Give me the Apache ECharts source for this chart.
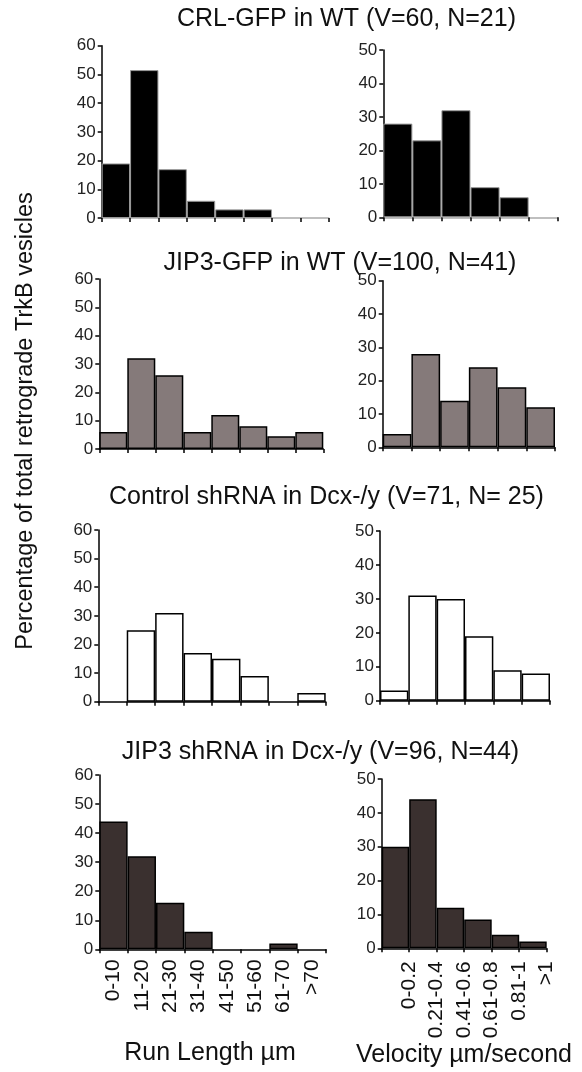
<!DOCTYPE html>
<html>
<head>
<meta charset="utf-8">
<script src="https://cdn.jsdelivr.net/npm/echarts@6/dist/echarts.min.js"></script>
<style>
  html, body { margin: 0; padding: 0; background: #fff; }
  #main { width: 582px; height: 1072px; }
</style>
</head>
<body>
<div id="main"></div>
<script>
// 类别
var runLabels = ['0-10', '11-20', '21-30', '31-40', '41-50', '51-60', '61-70', '>70']
var velLabels = ['0-0.2', '0.21-0.4', '0.41-0.6', '0.61-0.8', '0.81-1', '>1']

// 各组百分比
var crlRun = [19, 51.5, 17, 6, 3, 3, 0, 0]
var crlVel = [28, 23, 32, 9, 6, 0]
var jipRun = [6, 32, 26, 6, 12, 8, 4.5, 6]
var jipVel = [4, 28, 14, 24, 18, 12]
var ctlRun = [0, 25, 31, 17, 15, 9, 0, 3]
var ctlVel = [3, 31, 30, 19, 9, 8]
var shRun = [44, 32, 16, 6, 0, 0, 2, 0]
var shVel = [30, 44, 12, 8.5, 4, 2]

var yMaxRun = 60
var yMaxVel = 50

var titles = [
  'CRL-GFP in WT (V=60, N=21)',
  'JIP3-GFP in WT (V=100, N=41)',
  'Control shRNA in Dcx-/y (V=71, N= 25)',
  'JIP3 shRNA in Dcx-/y (V=96, N=44)'
]

var FONT = '"Liberation Sans", Arial, sans-serif'

// 面板布局 [left, top, width, height]
var panels = [
  { box: [101.7, 45.7, 227, 172.3], cats: runLabels, data: crlRun, max: yMaxRun, color: '#000', border: '#999', xLine: '#aaa', labels: false },
  { box: [383.3, 50, 174.4, 167.3], cats: velLabels, data: crlVel, max: yMaxVel, color: '#000', border: '#999', xLine: '#aaa', labels: false },
  { box: [99.3, 279, 224, 170], cats: runLabels, data: jipRun, max: yMaxRun, color: '#857a7a', border: '#000', xLine: '#000', labels: false },
  { box: [382.7, 280.7, 172.3, 166.6], cats: velLabels, data: jipVel, max: yMaxVel, color: '#857a7a', border: '#000', xLine: '#000', labels: false },
  { box: [98.3, 530, 227.4, 171.7], cats: runLabels, data: ctlRun, max: yMaxRun, color: '#fff', border: '#000', xLine: '#000', labels: false },
  { box: [380, 531, 170, 169.7], cats: velLabels, data: ctlVel, max: yMaxVel, color: '#fff', border: '#000', xLine: '#000', labels: false },
  { box: [99.3, 775, 226.7, 174.3], cats: runLabels, data: shRun, max: yMaxRun, color: '#3a302f', border: '#000', xLine: '#000', labels: 'run' },
  { box: [381.7, 779, 165, 169.3], cats: velLabels, data: shVel, max: yMaxVel, color: '#3a302f', border: '#000', xLine: '#000', labels: 'vel' }
]

var labelStyle = { show: true, interval: 0, rotate: 90, fontFamily: FONT, fontSize: 21, color: '#111' }

var grid = [], xAxis = [], yAxis = [], series = []
panels.forEach(function (p, i) {
  grid.push({ left: p.box[0], top: p.box[1], width: p.box[2], height: p.box[3] })
  var lab = { show: false }
  if (p.labels === 'run') {
    lab = Object.assign({}, labelStyle, { margin: 10 })
  }
  xAxis.push({
    type: 'category',
    gridIndex: i,
    data: p.cats,
    boundaryGap: true,
    axisLine: { lineStyle: { color: p.xLine, width: 1.5 } },
    axisTick: { show: true, length: 4, interval: 0, lineStyle: { color: '#000', width: 1.5 } },
    axisLabel: lab,
    splitLine: { show: false }
  })
  yAxis.push({
    type: 'value',
    gridIndex: i,
    min: 0,
    max: p.max,
    interval: 10,
    axisLine: { show: true, lineStyle: { color: '#000', width: 1.5 } },
    axisTick: { show: true, length: 4, lineStyle: { color: '#000', width: 1.5 } },
    axisLabel: { fontFamily: FONT, fontSize: 17, color: '#222', margin: 6 },
    splitLine: { show: false }
  })
  series.push({
    type: 'bar',
    xAxisIndex: i,
    yAxisIndex: i,
    barCategoryGap: '0%',
    barGap: '0%',
    silent: true,
    itemStyle: { color: p.color, borderColor: p.border, borderWidth: p.color === '#000' ? 1 : 1.5 },
    data: p.data.map(function (v) {
      return v === 0 ? { value: 0, itemStyle: { borderWidth: 0 } } : v
    })
  })
})

// 速度标签：原图标签落在每个柱子的右边界附近，用一个隐藏的数值轴来放
xAxis.push({
  type: 'value',
  gridIndex: 7,
  position: 'bottom',
  min: 0,
  max: velLabels.length,
  interval: 1,
  axisLine: { show: false },
  axisTick: { show: false },
  splitLine: { show: false },
  axisLabel: Object.assign({}, labelStyle, {
    margin: 13,
    showMinLabel: false,
    formatter: function (v) { return v >= 1 ? velLabels[v - 1] : '' }
  })
})

var titleY = [19, 263, 496.7, 751.7]
var titleX = [346.5, 340, 326.5, 320.5]
var graphic = titles.map(function (t, i) {
  return {
    type: 'text',
    x: titleX[i],
    y: titleY[i],
    style: { text: t, font: '25px ' + FONT, fill: '#111', textAlign: 'center', textVerticalAlign: 'middle' }
  }
})
graphic.push({
  type: 'text',
  x: 26,
  y: 421,
  rotation: Math.PI / 2,
  style: { text: 'Percentage of total retrograde TrkB vesicles', font: '23.5px ' + FONT, fill: '#111', textAlign: 'center', textVerticalAlign: 'middle' }
})
graphic.push({
  type: 'text',
  x: 210,
  y: 1053,
  style: { text: 'Run Length µm', font: '25px ' + FONT, fill: '#111', textAlign: 'center', textVerticalAlign: 'middle' }
})
graphic.push({
  type: 'text',
  x: 464,
  y: 1055,
  style: { text: 'Velocity µm/second', font: '25px ' + FONT, fill: '#111', textAlign: 'center', textVerticalAlign: 'middle' }
})

var myChart = echarts.init(document.getElementById('main'), null, { renderer: 'canvas' })
myChart.setOption({
  backgroundColor: '#fff',
  animation: false,
  grid: grid,
  xAxis: xAxis,
  yAxis: yAxis,
  series: series,
  graphic: graphic
})
</script>
</body>
</html>
